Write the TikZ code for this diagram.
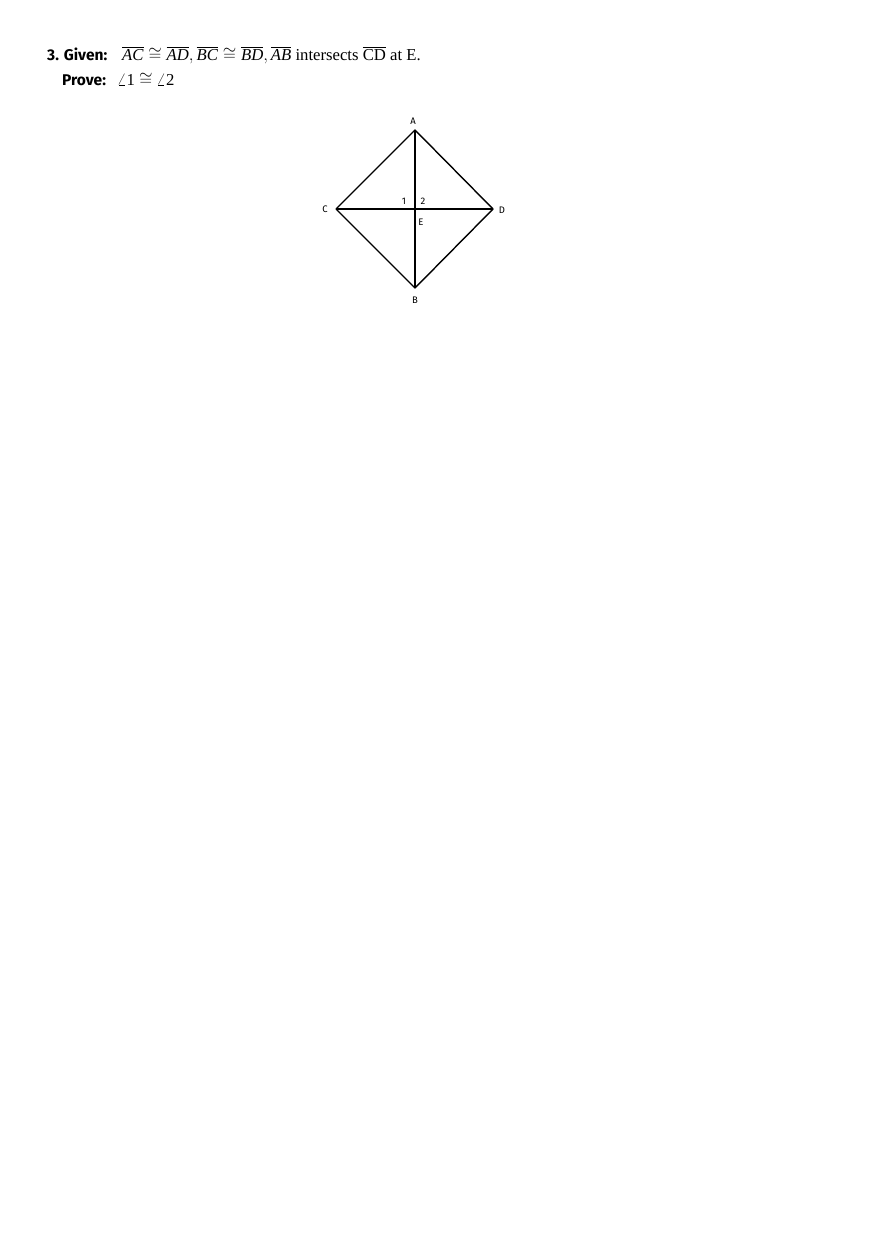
\documentclass[tikz,border=0pt]{standalone}
\usepackage{fontspec}
\setmainfont{Liberation Serif}
\newfontfamily\handf{Fira Sans}
\begin{document}
\begin{tikzpicture}[x=1pt,y=-1pt,
  seg/.style={line width=1.4pt, line join=round},
  ptlabel/.style={inner sep=0pt, font=\handf\fontsize{9.5}{11}\selectfont},
  headtxt/.style={anchor=base west, inner sep=0pt, font=\handf\bfseries\fontsize{15.5}{18}\selectfont},
  bodytxt/.style={anchor=base west, inner sep=0pt, font=\fontsize{16.7}{19}\selectfont}]
\useasboundingbox (0,0) rectangle (880,1247);
\fill[white] (0,0) rectangle (880,1247);
% text
\node[headtxt] (given) at (47,60) {3. Given:};
\node[bodytxt] (gmath) at (122,60) {$\overline{\mbox{\textit{AC}}}\cong\overline{\mbox{\textit{AD}}},\overline{\mbox{\textit{BC}}}\cong\overline{\mbox{\textit{BD}}},\overline{\mbox{\textit{AB}}}$ intersects $\overline{\mbox{CD}}$ at E.};
\node[headtxt] (prove) at (62,85) {Prove:};
\node[bodytxt] (pmath) at (117,85) {$\angle$1 $\cong$ $\angle$2};
% points
\coordinate (A) at (415,130);
\coordinate (B) at (415,288);
\coordinate (C) at (336,209);
\coordinate (D) at (493,209);
\coordinate (E) at (415,209);
\draw[seg] (A) -- (D) -- (B) -- (C) -- cycle;
\draw[seg] (A) -- (B);
\draw[seg] (C) -- (D);
% labels
\node[ptlabel] (lA) at (413,121) {A};
\node[ptlabel] (lB) at (415,300) {B};
\node[ptlabel] (lC) at (325,209) {C};
\node[ptlabel] (lD) at (502,210) {D};
\node[ptlabel] (lE) at (421,222) {E};
\node[ptlabel] (l1) at (404,201) {1};
\node[ptlabel] (l2) at (423,201) {2};
\end{tikzpicture}
\end{document}
